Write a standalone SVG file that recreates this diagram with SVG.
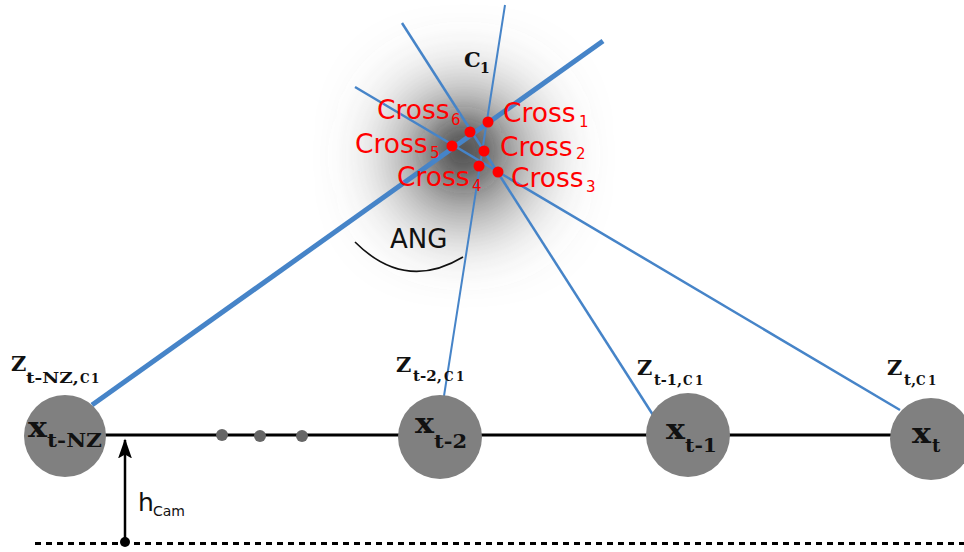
<svg xmlns="http://www.w3.org/2000/svg" width="964" height="552" viewBox="0 0 964 552">
<style>
.ray{stroke:#4684c8;fill:none;stroke-linecap:butt}
.node{fill:#808080}
.dot{fill:#666}
.cr{fill:#f00}
.ct{font-family:"DejaVu Sans",sans-serif;fill:#f00;font-size:26.5px}
.cs{font-family:"DejaVu Sans",sans-serif;fill:#f00;font-size:15px}
.mb{font-family:"DejaVu Serif","Liberation Serif",serif;font-weight:bold;fill:#111}
.sans{font-family:"DejaVu Sans",sans-serif;fill:#111}
</style>
<defs>
<filter id="blur" x="-300%" y="-300%" width="700%" height="700%">
<feGaussianBlur stdDeviation="38"/>
</filter>
<filter id="blur2" x="-300%" y="-300%" width="700%" height="700%">
<feGaussianBlur stdDeviation="18"/>
</filter>
<marker id="arr" markerUnits="userSpaceOnUse" markerWidth="20" markerHeight="26" refX="24" refY="9" orient="auto" viewBox="0 0 26 18">
<path d="M0,0 L26,9 L0,18 L5,9 Z" fill="#000"/>
</marker>
</defs>
<rect width="964" height="552" fill="#fff"/>
<g id="glow">
<circle cx="464" cy="156" r="66" fill="#666" filter="url(#blur)"/>
<circle cx="463" cy="150" r="22" fill="#333" filter="url(#blur2)"/>
</g>
<g id="connectors">
<line class="ray" x1="92" y1="405" x2="603" y2="41" stroke-width="5"/>
<line class="ray" x1="444" y1="396" x2="505" y2="5" stroke-width="2"/>
<line class="ray" x1="653" y1="415" x2="402" y2="23" stroke-width="2.5"/>
<line class="ray" x1="900" y1="410" x2="355" y2="87" stroke-width="2.5"/>
<line x1="100" y1="435" x2="900" y2="435" stroke="#000" stroke-width="3"/>
<line x1="35" y1="543.5" x2="964" y2="543.5" stroke="#000" stroke-width="3" stroke-dasharray="6 5"/>
<line x1="125" y1="542" x2="125" y2="440" stroke="#000" stroke-width="2.5" marker-end="url(#arr)"/>
<circle cx="125" cy="542" r="5" fill="#000"/>
<path d="M355,242 Q405,292 463,257" fill="none" stroke="#111" stroke-width="1.6"/>
</g>
<g id="ellipsis">
<circle class="dot" cx="222" cy="435" r="6"/>
<circle class="dot" cx="260" cy="436" r="6"/>
<circle class="dot" cx="302" cy="436" r="6"/>
</g>
<g id="node-xtNZ">
<circle class="node" cx="65" cy="436" r="41"/>
<text class="mb" x="28" y="437" font-size="28" textLength="19" lengthAdjust="spacingAndGlyphs">x</text>
<text class="mb" x="47" y="447" font-size="18" textLength="55" lengthAdjust="spacingAndGlyphs">t-NZ</text>
</g>
<g id="node-xt2">
<circle class="node" cx="440" cy="437" r="42"/>
<text class="mb" x="415" y="433" font-size="28" textLength="19" lengthAdjust="spacingAndGlyphs">x</text>
<text class="mb" x="434" y="448" font-size="18" textLength="33" lengthAdjust="spacingAndGlyphs">t-2</text>
</g>
<g id="node-xt1">
<circle class="node" cx="688" cy="435" r="42"/>
<text class="mb" x="666" y="439" font-size="28" textLength="19" lengthAdjust="spacingAndGlyphs">x</text>
<text class="mb" x="685" y="452" font-size="18" textLength="32" lengthAdjust="spacingAndGlyphs">t-1</text>
</g>
<g id="node-xt">
<circle class="node" cx="931" cy="439" r="41"/>
<text class="mb" x="912" y="443" font-size="28" textLength="19" lengthAdjust="spacingAndGlyphs">x</text>
<text class="mb" x="932" y="452" font-size="18">t</text>
</g>
<g id="label-ztNZ">
<text class="mb" x="11" y="371" font-size="21">Z</text>
<text class="mb" x="26" y="383" font-size="15" textLength="53" lengthAdjust="spacingAndGlyphs">t-NZ,</text>
<text class="mb" x="80" y="383" font-size="12">C</text>
<text class="mb" x="91" y="383" font-size="12">1</text>
</g>
<g id="label-zt2">
<text class="mb" x="396" y="372" font-size="21">Z</text>
<text class="mb" x="413" y="381" font-size="15" textLength="29" lengthAdjust="spacingAndGlyphs">t-2,</text>
<text class="mb" x="444" y="381" font-size="12">C</text>
<text class="mb" x="456" y="381" font-size="12">1</text>
</g>
<g id="label-zt1">
<text class="mb" x="637" y="375" font-size="21">Z</text>
<text class="mb" x="654" y="385" font-size="15" textLength="28" lengthAdjust="spacingAndGlyphs">t-1,</text>
<text class="mb" x="683" y="385" font-size="12">C</text>
<text class="mb" x="695" y="385" font-size="12">1</text>
</g>
<g id="label-zt">
<text class="mb" x="887" y="375" font-size="21">Z</text>
<text class="mb" x="904" y="385" font-size="15">t,</text>
<text class="mb" x="916" y="385" font-size="12">C</text>
<text class="mb" x="928" y="385" font-size="12">1</text>
</g>
<g id="label-c1">
<text class="mb" x="464" y="67" font-size="21">C</text>
<text class="mb" x="480" y="73" font-size="14">1</text>
</g>
<g id="crosses">
<circle class="cr" cx="488" cy="122" r="5.5"/>
<circle class="cr" cx="470" cy="132" r="5.5"/>
<circle class="cr" cx="452" cy="146" r="5.5"/>
<circle class="cr" cx="484" cy="151" r="5.5"/>
<circle class="cr" cx="479" cy="166" r="5.5"/>
<circle class="cr" cx="498" cy="172" r="5.5"/>
<text class="ct" x="503" y="122">Cross</text><text class="cs" x="579" y="127">1</text>
<text class="ct" x="377" y="119">Cross</text><text class="cs" x="451" y="125">6</text>
<text class="ct" x="355" y="153">Cross</text><text class="cs" x="430" y="158">5</text>
<text class="ct" x="500" y="156">Cross</text><text class="cs" x="576" y="159">2</text>
<text class="ct" x="397" y="186">Cross</text><text class="cs" x="472" y="191">4</text>
<text class="ct" x="511" y="187">Cross</text><text class="cs" x="586" y="192">3</text>
</g>
<g id="label-ang">
<text class="sans" x="390" y="248" font-size="26">ANG</text>
</g>
<g id="label-hcam">
<text class="sans" x="138" y="511" font-size="25">h</text>
<text class="sans" x="153" y="516" font-size="14">Cam</text>
</g>
</svg>
